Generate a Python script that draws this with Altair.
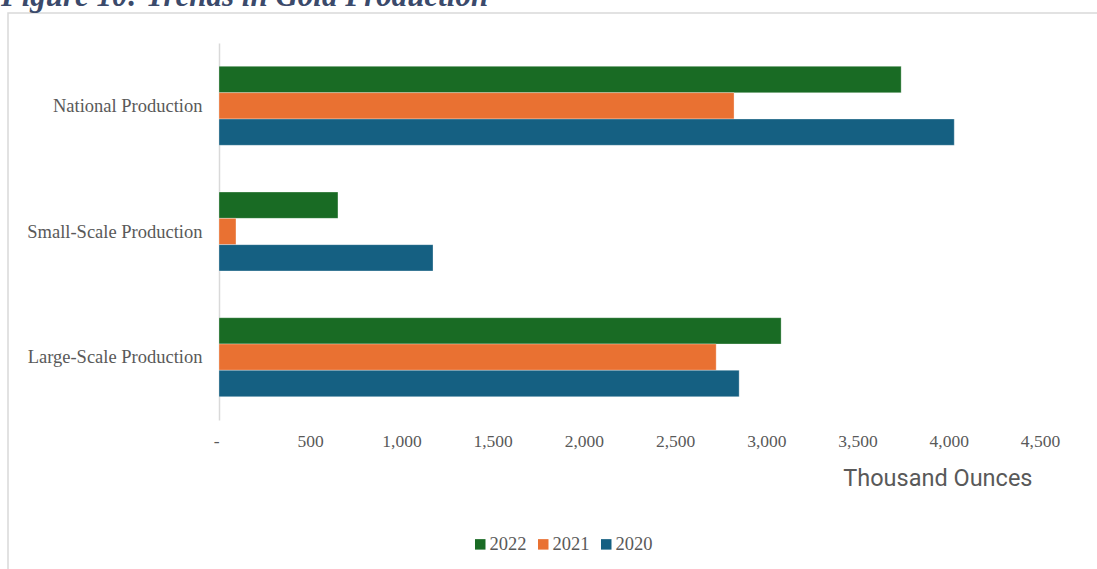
import altair as alt
import pandas as pd

categories = ["National Production", "Small-Scale Production", "Large-Scale Production"]
years = ["2022", "2021", "2020"]
values_2022 = [3739, 652, 3081]
values_2021 = [2823, 93, 2725]
values_2020 = [4030, 1173, 2851]
colors = ["#196B24", "#E97132", "#156082"]

rows = []
for yr, vals in zip(years, [values_2022, values_2021, values_2020]):
    for c, v in zip(categories, vals):
        rows.append({"category": c, "year": yr, "value": v})
df = pd.DataFrame(rows)

bars = alt.Chart(df).mark_bar(stroke="white", strokeWidth=0.6, strokeOpacity=0.5).encode(
    y=alt.Y("category:N", sort=categories,
            scale=alt.Scale(paddingInner=0.372, paddingOuter=0.186),
            axis=alt.Axis(title=None, ticks=False, domain=True, domainColor="#d9d9d9",
                          domainWidth=1.5, labelFont="Liberation Serif", labelFontSize=18.5,
                          labelColor="#595959", labelPadding=17)),
    yOffset=alt.YOffset("year:N", sort=years, scale=alt.Scale(paddingInner=0, paddingOuter=0)),
    x=alt.X("value:Q", scale=alt.Scale(domain=[0, 4500], nice=False),
            axis=alt.Axis(values=list(range(0, 4501, 500)), grid=False, domain=False, ticks=False,
                          labelExpr="datum.value == 0 ? '-' : format(datum.value, ',')",
                          labelAlign={"condition": {"test": "datum.value == 0", "value": "right"},
                                      "value": "center"},
                          labelFont="Liberation Serif", labelFontSize=17.5, labelColor="#595959",
                          labelPadding=12,
                          title="Thousand Ounces", titleFont="Roboto", titleFontSize=23.5,
                          titleFontWeight="normal", titleColor="#595959",
                          titleAlign="right", titleAnchor="end", titleX=813, titleY=65,
                          titleBaseline="alphabetic")),
    color=alt.Color("year:N", sort=years,
                    scale=alt.Scale(domain=years, range=colors),
                    legend=alt.Legend(title=None, orient="none", direction="horizontal",
                                      legendX=252, legendY=492, symbolType="square",
                                      symbolSize=110, symbolStrokeWidth=0,
                                      labelFont="Liberation Serif", labelFontSize=18.5,
                                      labelColor="#595959", columnPadding=7, labelOffset=0)),
)

one = pd.DataFrame({"t": ["Figure 10: Trends in Gold Production"]})

title = alt.Chart(one).mark_text(
    align="left", baseline="alphabetic", font="Liberation Serif", fontSize=31,
    fontStyle="italic", fontWeight="bold", color="#3B4A6B"
).encode(x=alt.value(-218), y=alt.value(-37), text="t:N")

frame = alt.Chart(one).mark_rect(fill=None, stroke="#d9d9d9", strokeWidth=1.5).encode(
    x=alt.value(-211), x2=alt.value(900), y=alt.value(-30), y2=alt.value(600)
)

chart = alt.layer(frame, bars, title).properties(
    width=821, height=377,
    autosize=alt.AutoSizeParams(type="none"),
    padding={"left": 219, "top": 43, "right": 57, "bottom": 149},
    background="white",
).configure_view(stroke=None)

chart.save("out.html", embed_options={"renderer": "svg", "actions": False})
